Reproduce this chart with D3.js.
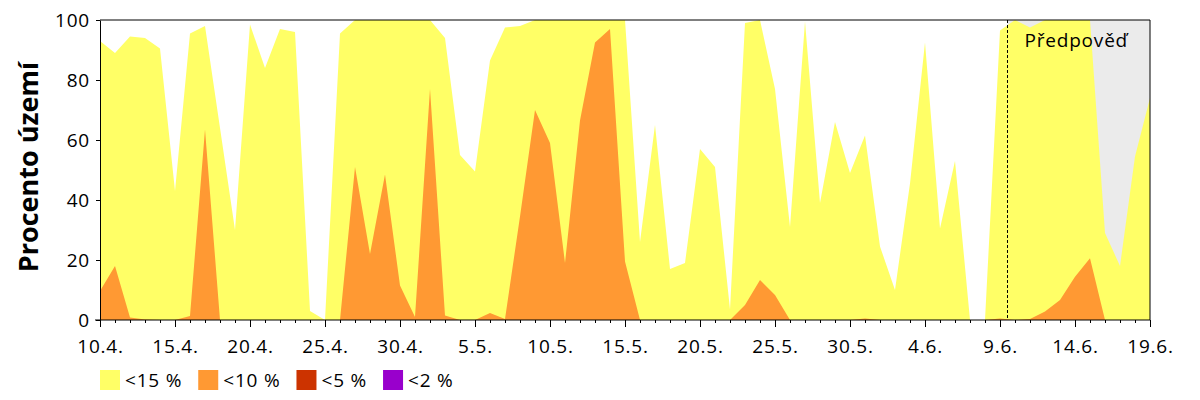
<!DOCTYPE html>
<html><head><meta charset="utf-8">
<script src="https://cdn.jsdelivr.net/npm/d3@7/dist/d3.min.js"></script>
<style>body{margin:0;background:#fff}svg text{font-family:"Open Sans",sans-serif}</style>
</head><body>
<svg id="c" width="1200" height="400"></svg>
<script>
// ---- data ----
const firstDay = "10.4.2020";
const lastDay = "19.6.2020";
const forecastStart = "9.6.2020 12";
const tickLabels = ["10.4.","15.4.","20.4.","25.4.","30.4.","5.5.","10.5.","15.5.","20.5.","25.5.","30.5.","4.6.","9.6.","14.6.","19.6."];
const yTicks = [0,20,40,60,80,100];
const seriesNames = ["<15 %","<10 %","<5 %","<2 %"];
const seriesColors = ["#ffff66","#ff9933","#cc3300","#9900cc"];
const forecastLabel = "Předpověď";
const yTitle = "Procento území";

const below15 = [93,89,94.5,94,90.5,43,95.5,98,64,30,
  98.5,84,97,96,3,0,95.5,100,100,100,
  100,100,100,94,55,49.5,86.5,97.5,98,100,
  100,100,100,100,100,100,26,65,17,19,
  57,51,3.5,99,100,77,31,99.5,39,66,
  49,61.5,24.5,10,45.5,92.5,30.5,53,0,0,
  96.5,100,97.5,100,100,100,100,29,18,54.5,
  74];
const below10 = [9.7,18,0.8,0.2,0,0,1.3,63.5,0,0,
  0,0,0,0,0,0,0,51,22,48.5,
  11.5,1,77,1.5,0,0,2.3,0.3,34.5,70,
  59,19,66.5,92.5,97,19.5,0,0,0,0,
  0,0,0,5,13.3,8.3,0,0,0,0,
  0,0.5,0,0,0,0,0,0,0,0,
  0.5,0,0.3,2.8,6.7,14.4,20.6,0,0,0,
  0];
const below5 = [0,0,0,0,0,0,0,0,0,0, 0,0,0,0,0,0,0,0,0,0, 0,0,0,0,0,0,0,0,0,0,
  0,0,0,0,0,0,0,0,0,0, 0,0,0,0,0,0,0,0,0,0, 0,0,0,0,0,0,0,0,0,0, 0,0,0,0,0,0,0,0,0,0, 0];
const below2 = [0,0,0,0,0,0,0,0,0,0, 0,0,0,0,0,0,0,0,0,0, 0,0,0,0,0,0,0,0,0,0,
  0,0,0,0,0,0,0,0,0,0, 0,0,0,0,0,0,0,0,0,0, 0,0,0,0,0,0,0,0,0,0, 0,0,0,0,0,0,0,0,0,0, 0];

// ---- chart ----
const parseD = d3.timeParse("%d.%m.%Y");
const parseDH = d3.timeParse("%d.%m.%Y %H");
const d0 = parseD(firstDay), d1 = parseD(lastDay);
const days = d3.timeDay.range(d0, d3.timeDay.offset(d1, 1));
const tickDates = tickLabels.map(t => parseD(t + "2020"));

const svg = d3.select("#c");
const L = 100, R = 1150, T = 20, B = 320;
const x = d3.scaleTime().domain([d0, d1]).range([L, R]);
const y = d3.scaleLinear().domain([0, 100]).range([B, T]);

// forecast background
const fs = parseDH(forecastStart);
svg.append("rect").attr("x", x(fs)).attr("y", y(100))
  .attr("width", x(d1) - x(fs)).attr("height", y(0) - y(100)).attr("fill", "#ebebeb");

const series = [below15, below10, below5, below2];
series.forEach((vals, i) => {
  const area = d3.area().x((d, j) => x(days[j])).y0(y(0)).y1(d => y(d));
  svg.append("path").datum(vals).attr("d", area).attr("fill", seriesColors[i]);
});

// forecast line + label
svg.append("line").attr("x1", x(fs)).attr("x2", x(fs)).attr("y1", y(100)).attr("y2", y(0))
  .attr("stroke", "#000").attr("stroke-width", 1).attr("stroke-dasharray", "3,2");
svg.append("text").attr("x", x(fs) + 17).attr("y", 47).attr("font-size", 19)
  .style("letter-spacing", "0.8px").text(forecastLabel);

// axes
const minor = svg.append("g").attr("transform", `translate(0,${B})`)
  .call(d3.axisBottom(x).tickValues(days).tickSize(3).tickSizeOuter(0).tickFormat(""));
minor.select(".domain").remove();
const major = svg.append("g").attr("transform", `translate(0,${B})`)
  .call(d3.axisBottom(x).tickValues(tickDates).tickSize(7).tickSizeOuter(0)
    .tickFormat((d, i) => tickLabels[i]));
major.selectAll("text").attr("y", 33).attr("dy", 0).attr("font-size", 19)
  .attr("fill", "#000").style("letter-spacing", "0.8px").attr("font-family", null);
major.select(".domain").attr("d", `M${L - 5},0H${R}`);

const ya = svg.append("g").attr("transform", `translate(${L},0)`)
  .call(d3.axisLeft(y).tickValues(yTicks).tickSize(4).tickPadding(6).tickSizeOuter(0));
ya.selectAll("text").attr("font-size", 19).attr("fill", "#000").attr("dy", "0.36em")
  .style("letter-spacing", "0.8px").attr("font-family", null);
svg.selectAll(".tick line, .domain").attr("stroke", "#000");

// frame top + right
svg.append("path").attr("d", `M${L},${T}H${R}V${B}`).attr("fill", "none").attr("stroke", "#000");

// y title
svg.append("text").attr("transform", `translate(38,${(T + B) / 2 - 3}) rotate(-90)`)
  .attr("text-anchor", "middle").attr("font-size", 27).attr("font-weight", "bold").text(yTitle);

// legend
let lx = 100;
seriesNames.forEach((name, i) => {
  svg.append("rect").attr("x", lx).attr("y", 370).attr("width", 20).attr("height", 20).attr("fill", seriesColors[i]);
  const t = svg.append("text").attr("x", lx + 25).attr("y", 387).attr("font-size", 19)
    .style("letter-spacing", "0.8px").text(name);
  lx = lx + 25 + t.node().getComputedTextLength() + 16;
});
</script>
</body></html>
